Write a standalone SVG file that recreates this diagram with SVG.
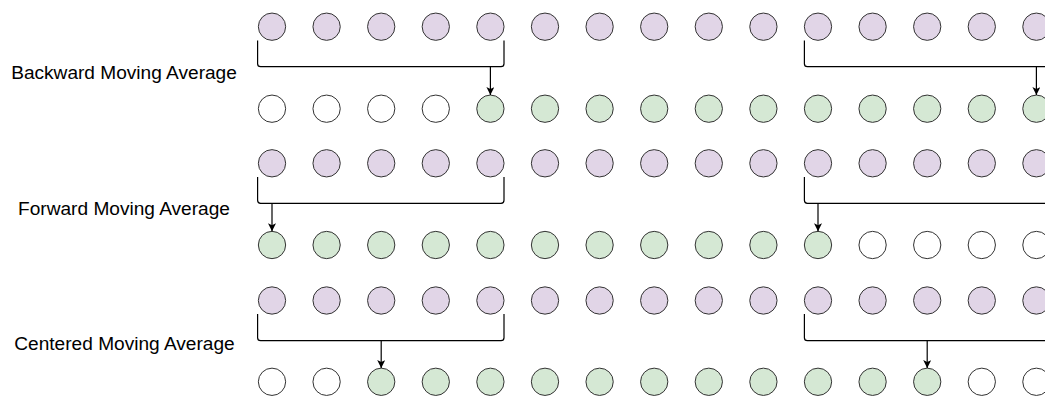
<svg xmlns="http://www.w3.org/2000/svg" width="1045" height="396" viewBox="0 0 1045 396">
<style>
circle{stroke:#333;stroke-width:1}
.p{fill:#e1d5e7}
.g{fill:#d5e8d4}
.w{fill:#ffffff}
.lbl{font-family:"Liberation Sans",Arial,sans-serif;font-size:19.1px;fill:#000;text-anchor:middle}
.br{fill:none;stroke:#000;stroke-width:1.2}
.ar{fill:none;stroke:#000;stroke-width:1.2;marker-end:url(#ah)}
</style>
<defs>
<marker id="ah" viewBox="0 0 8 8" refX="8" refY="4" markerWidth="8" markerHeight="8" markerUnits="userSpaceOnUse" orient="auto">
<path d="M0,0 L8,4 L0,8 L2,4 Z" fill="#000"/>
</marker>
</defs>
<rect width="1045" height="396" fill="#fff"/>
<g id="label-backward"><text class="lbl" x="124" y="78.8">Backward Moving Average</text></g>
<g id="label-forward"><text class="lbl" x="124" y="214.5">Forward Moving Average</text></g>
<g id="label-centered"><text class="lbl" x="124.5" y="349.8">Centered Moving Average</text></g>

<g id="r1c1"><circle class="p" cx="272" cy="26.7" r="13.65"/></g>
<g id="r1c2"><circle class="p" cx="326.6" cy="26.7" r="13.65"/></g>
<g id="r1c3"><circle class="p" cx="381.2" cy="26.7" r="13.65"/></g>
<g id="r1c4"><circle class="p" cx="435.8" cy="26.7" r="13.65"/></g>
<g id="r1c5"><circle class="p" cx="490.4" cy="26.7" r="13.65"/></g>
<g id="r1c6"><circle class="p" cx="545" cy="26.7" r="13.65"/></g>
<g id="r1c7"><circle class="p" cx="599.6" cy="26.7" r="13.65"/></g>
<g id="r1c8"><circle class="p" cx="654.2" cy="26.7" r="13.65"/></g>
<g id="r1c9"><circle class="p" cx="708.8" cy="26.7" r="13.65"/></g>
<g id="r1c10"><circle class="p" cx="763.4" cy="26.7" r="13.65"/></g>
<g id="r1c11"><circle class="p" cx="818" cy="26.7" r="13.65"/></g>
<g id="r1c12"><circle class="p" cx="872.6" cy="26.7" r="13.65"/></g>
<g id="r1c13"><circle class="p" cx="927.2" cy="26.7" r="13.65"/></g>
<g id="r1c14"><circle class="p" cx="981.8" cy="26.7" r="13.65"/></g>
<g id="r1c15"><circle class="p" cx="1036.4" cy="26.7" r="13.65"/></g>

<g id="r2c1"><circle class="w" cx="272" cy="108.7" r="13.65"/></g>
<g id="r2c2"><circle class="w" cx="326.6" cy="108.7" r="13.65"/></g>
<g id="r2c3"><circle class="w" cx="381.2" cy="108.7" r="13.65"/></g>
<g id="r2c4"><circle class="w" cx="435.8" cy="108.7" r="13.65"/></g>
<g id="r2c5"><circle class="g" cx="490.4" cy="108.7" r="13.65"/></g>
<g id="r2c6"><circle class="g" cx="545" cy="108.7" r="13.65"/></g>
<g id="r2c7"><circle class="g" cx="599.6" cy="108.7" r="13.65"/></g>
<g id="r2c8"><circle class="g" cx="654.2" cy="108.7" r="13.65"/></g>
<g id="r2c9"><circle class="g" cx="708.8" cy="108.7" r="13.65"/></g>
<g id="r2c10"><circle class="g" cx="763.4" cy="108.7" r="13.65"/></g>
<g id="r2c11"><circle class="g" cx="818" cy="108.7" r="13.65"/></g>
<g id="r2c12"><circle class="g" cx="872.6" cy="108.7" r="13.65"/></g>
<g id="r2c13"><circle class="g" cx="927.2" cy="108.7" r="13.65"/></g>
<g id="r2c14"><circle class="g" cx="981.8" cy="108.7" r="13.65"/></g>
<g id="r2c15"><circle class="g" cx="1036.4" cy="108.7" r="13.65"/></g>

<g id="r3c1"><circle class="p" cx="272" cy="163.3" r="13.65"/></g>
<g id="r3c2"><circle class="p" cx="326.6" cy="163.3" r="13.65"/></g>
<g id="r3c3"><circle class="p" cx="381.2" cy="163.3" r="13.65"/></g>
<g id="r3c4"><circle class="p" cx="435.8" cy="163.3" r="13.65"/></g>
<g id="r3c5"><circle class="p" cx="490.4" cy="163.3" r="13.65"/></g>
<g id="r3c6"><circle class="p" cx="545" cy="163.3" r="13.65"/></g>
<g id="r3c7"><circle class="p" cx="599.6" cy="163.3" r="13.65"/></g>
<g id="r3c8"><circle class="p" cx="654.2" cy="163.3" r="13.65"/></g>
<g id="r3c9"><circle class="p" cx="708.8" cy="163.3" r="13.65"/></g>
<g id="r3c10"><circle class="p" cx="763.4" cy="163.3" r="13.65"/></g>
<g id="r3c11"><circle class="p" cx="818" cy="163.3" r="13.65"/></g>
<g id="r3c12"><circle class="p" cx="872.6" cy="163.3" r="13.65"/></g>
<g id="r3c13"><circle class="p" cx="927.2" cy="163.3" r="13.65"/></g>
<g id="r3c14"><circle class="p" cx="981.8" cy="163.3" r="13.65"/></g>
<g id="r3c15"><circle class="p" cx="1036.4" cy="163.3" r="13.65"/></g>

<g id="r4c1"><circle class="g" cx="272" cy="245" r="13.65"/></g>
<g id="r4c2"><circle class="g" cx="326.6" cy="245" r="13.65"/></g>
<g id="r4c3"><circle class="g" cx="381.2" cy="245" r="13.65"/></g>
<g id="r4c4"><circle class="g" cx="435.8" cy="245" r="13.65"/></g>
<g id="r4c5"><circle class="g" cx="490.4" cy="245" r="13.65"/></g>
<g id="r4c6"><circle class="g" cx="545" cy="245" r="13.65"/></g>
<g id="r4c7"><circle class="g" cx="599.6" cy="245" r="13.65"/></g>
<g id="r4c8"><circle class="g" cx="654.2" cy="245" r="13.65"/></g>
<g id="r4c9"><circle class="g" cx="708.8" cy="245" r="13.65"/></g>
<g id="r4c10"><circle class="g" cx="763.4" cy="245" r="13.65"/></g>
<g id="r4c11"><circle class="g" cx="818" cy="245" r="13.65"/></g>
<g id="r4c12"><circle class="w" cx="872.6" cy="245" r="13.65"/></g>
<g id="r4c13"><circle class="w" cx="927.2" cy="245" r="13.65"/></g>
<g id="r4c14"><circle class="w" cx="981.8" cy="245" r="13.65"/></g>
<g id="r4c15"><circle class="w" cx="1036.4" cy="245" r="13.65"/></g>

<g id="r5c1"><circle class="p" cx="272" cy="300.5" r="13.65"/></g>
<g id="r5c2"><circle class="p" cx="326.6" cy="300.5" r="13.65"/></g>
<g id="r5c3"><circle class="p" cx="381.2" cy="300.5" r="13.65"/></g>
<g id="r5c4"><circle class="p" cx="435.8" cy="300.5" r="13.65"/></g>
<g id="r5c5"><circle class="p" cx="490.4" cy="300.5" r="13.65"/></g>
<g id="r5c6"><circle class="p" cx="545" cy="300.5" r="13.65"/></g>
<g id="r5c7"><circle class="p" cx="599.6" cy="300.5" r="13.65"/></g>
<g id="r5c8"><circle class="p" cx="654.2" cy="300.5" r="13.65"/></g>
<g id="r5c9"><circle class="p" cx="708.8" cy="300.5" r="13.65"/></g>
<g id="r5c10"><circle class="p" cx="763.4" cy="300.5" r="13.65"/></g>
<g id="r5c11"><circle class="p" cx="818" cy="300.5" r="13.65"/></g>
<g id="r5c12"><circle class="p" cx="872.6" cy="300.5" r="13.65"/></g>
<g id="r5c13"><circle class="p" cx="927.2" cy="300.5" r="13.65"/></g>
<g id="r5c14"><circle class="p" cx="981.8" cy="300.5" r="13.65"/></g>
<g id="r5c15"><circle class="p" cx="1036.4" cy="300.5" r="13.65"/></g>

<g id="r6c1"><circle class="w" cx="272" cy="381.8" r="13.65"/></g>
<g id="r6c2"><circle class="w" cx="326.6" cy="381.8" r="13.65"/></g>
<g id="r6c3"><circle class="g" cx="381.2" cy="381.8" r="13.65"/></g>
<g id="r6c4"><circle class="g" cx="435.8" cy="381.8" r="13.65"/></g>
<g id="r6c5"><circle class="g" cx="490.4" cy="381.8" r="13.65"/></g>
<g id="r6c6"><circle class="g" cx="545" cy="381.8" r="13.65"/></g>
<g id="r6c7"><circle class="g" cx="599.6" cy="381.8" r="13.65"/></g>
<g id="r6c8"><circle class="g" cx="654.2" cy="381.8" r="13.65"/></g>
<g id="r6c9"><circle class="g" cx="708.8" cy="381.8" r="13.65"/></g>
<g id="r6c10"><circle class="g" cx="763.4" cy="381.8" r="13.65"/></g>
<g id="r6c11"><circle class="g" cx="818" cy="381.8" r="13.65"/></g>
<g id="r6c12"><circle class="g" cx="872.6" cy="381.8" r="13.65"/></g>
<g id="r6c13"><circle class="g" cx="927.2" cy="381.8" r="13.65"/></g>
<g id="r6c14"><circle class="w" cx="981.8" cy="381.8" r="13.65"/></g>
<g id="r6c15"><circle class="w" cx="1036.4" cy="381.8" r="13.65"/></g>

<g id="connectors">
<path class="br" d="M257.6,40.5 V63.7 Q257.6,66.7 260.6,66.7 H501 Q504,66.7 504,63.7 V40.5"/>
<path class="ar" d="M490.4,66.7 V95"/>
<path class="br" d="M804.4,40.5 V63.7 Q804.4,66.7 807.4,66.7 H1047 Q1050,66.7 1050,63.7 V40.5"/>
<path class="ar" d="M1036.4,66.7 V95"/>
<path class="br" d="M257.6,177 V200.3 Q257.6,203.3 260.6,203.3 H501 Q504,203.3 504,200.3 V177"/>
<path class="ar" d="M272,203.3 V231.3"/>
<path class="br" d="M804.4,177 V200.3 Q804.4,203.3 807.4,203.3 H1047 Q1050,203.3 1050,200.3 V177"/>
<path class="ar" d="M818,203.3 V231.3"/>
<path class="br" d="M257.6,314 V337.7 Q257.6,340.7 260.6,340.7 H501 Q504,340.7 504,337.7 V314"/>
<path class="ar" d="M381.2,340.7 V368.1"/>
<path class="br" d="M804.4,314 V337.7 Q804.4,340.7 807.4,340.7 H1047 Q1050,340.7 1050,337.7 V314"/>
<path class="ar" d="M927.2,340.7 V368.1"/>
</g>
</svg>
